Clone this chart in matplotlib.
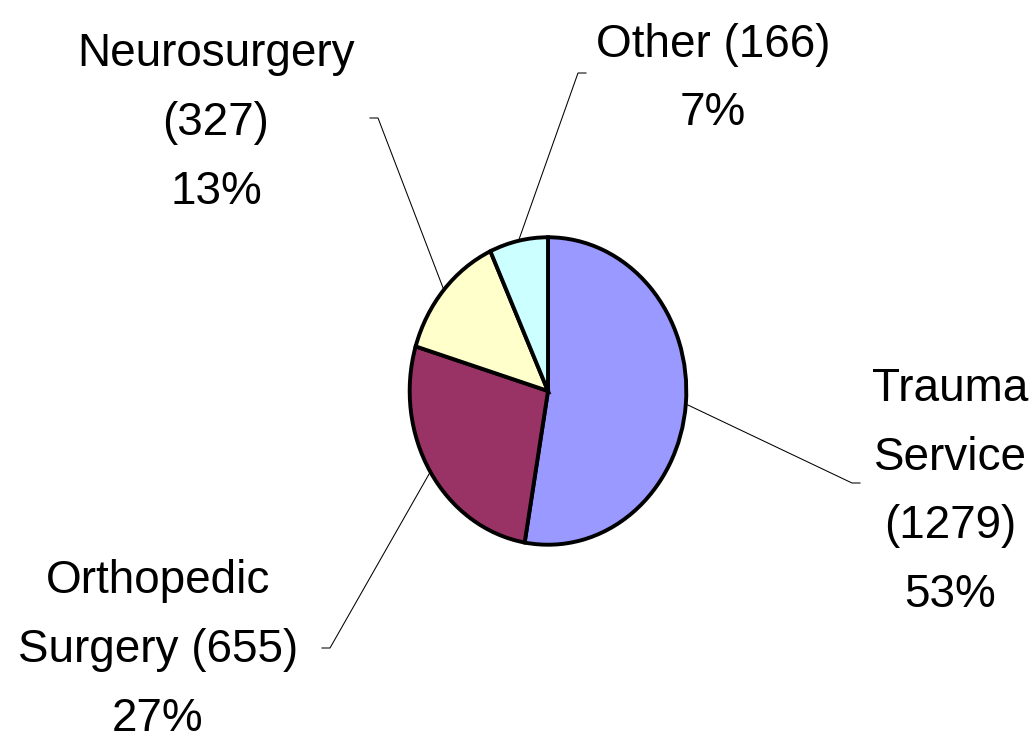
import numpy as np
import matplotlib
matplotlib.use("Agg")
import matplotlib.pyplot as plt
from matplotlib.lines import Line2D

# Data
services = ["Trauma\nService", "Orthopedic\nSurgery", "Neurosurgery", "Other"]
counts = [1279, 655, 327, 166]
colors = ["#9999FF", "#993366", "#FFFFCC", "#CCFFFF"]

# label text as laid out in the original (line breaks differ per label)
label_fmt = [
    "Trauma\nService\n({n})\n{p}%",
    "Orthopedic\nSurgery ({n})\n{p}%",
    "Neurosurgery\n({n})\n{p}%",
    "Other ({n})\n{p}%",
]
# label centre and leader elbow, in figure pixels (from top-left)
label_pos = [(950, 492), (158, 650), (216, 123), (713, 79)]
elbow = [(852, 483), (330, 648), (378, 118), (578, 73)]
tick_dx = [8, -8, -8, 8]

W, H = 1036, 743
fig = plt.figure(figsize=(W / 100, H / 100), dpi=100)
fig.patch.set_facecolor("white")

# pie is slightly elliptical in the original: 278 x 309 px
cx, cy, rx, ry = 548, 391, 139, 154.5
ax = fig.add_axes([(cx - rx) / W, (H - cy - ry) / H, 2 * rx / W, 2 * ry / H])
wedges, _ = ax.pie(counts, colors=colors, startangle=90, counterclock=False,
                   radius=1.0,
                   wedgeprops=dict(edgecolor="black", linewidth=2.8))
ax.set_aspect("auto")
ax.set_xlim(-1.005, 1.005)
ax.set_ylim(-1.005, 1.005)
ax.axis("off")

total = sum(counts)
for i, w in enumerate(wedges):
    mid = np.deg2rad((w.theta1 + w.theta2) / 2)
    # edge point of the wedge in figure pixels
    px, py = ax.transData.transform((np.cos(mid), np.sin(mid)))
    ex, ey = elbow[i]
    ey = H - ey
    fig.add_artist(Line2D([px / W, ex / W, (ex + tick_dx[i]) / W],
                          [py / H, ey / H, ey / H],
                          color="black", linewidth=0.75, zorder=0,
                          transform=fig.transFigure))
    pct = round(100 * counts[i] / total)
    txt = label_fmt[i].format(n=counts[i], p=pct)
    lx, ly = label_pos[i]
    fig.text(lx / W, (H - ly) / H, txt, ha="center", va="center",
             multialignment="center", fontsize=33, linespacing=1.73,
             family="Liberation Sans", color="black")

plt.savefig("out.png", dpi=100)
